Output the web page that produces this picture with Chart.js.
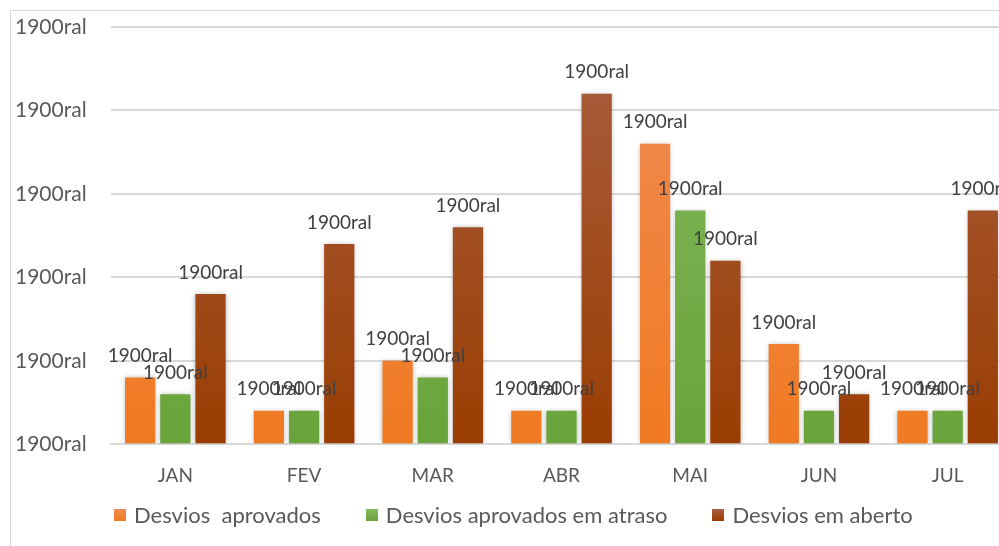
<!DOCTYPE html>
<html>
<head>
<meta charset="utf-8">
<script src="https://cdn.jsdelivr.net/npm/chart.js@4"></script>
<style>
    html, body { margin: 0; padding: 0; background: #fff; overflow: hidden; }
    #frame { position: absolute; left: 10px; top: 10px; width: 1000px; height: 545px; border: 1px solid #d9d9d9; }
    #wrap { position: absolute; left: 0; top: 0; width: 1012px; height: 546px; }
    #legend { position: absolute; left: 114px; top: 501px; display: flex; align-items: center;
              font-family: Lato, "Open Sans", sans-serif; font-size: 22px; color: #595959; white-space: pre; }
    #legend .item { display: flex; align-items: center; margin-right: 45px; }
    #legend .box { width: 12px; height: 12px; margin-right: 8px; }
</style>
</head>
<body>
<div id="frame"></div>
<div id="wrap"><canvas id="chart"></canvas></div>
<div id="legend"></div>
<script>
const months = ['JAN', 'FEV', 'MAR', 'ABR', 'MAI', 'JUN', 'JUL'];
const aprovados = [4, 2, 5, 2, 18, 6, 2];
const emAtraso = [3, 2, 4, 2, 14, 2, 2];
const emAberto = [9, 12, 13, 21, 11, 3, 14];
const seriesNames = ['Desvios  aprovados', 'Desvios aprovados em atraso', 'Desvios em aberto'];
const tickText = '1900ral';

const FONT = 'Lato, "Open Sans", sans-serif';
const legendColors = ['linear-gradient(#f08c56, #f07a22)', 'linear-gradient(#86b95f, #68a43a)', 'linear-gradient(#a95f42, #9a3d02)'];

// vertical gradient per series, built once the chart area is known
function grad(top, bottom) {
    return function(context) {
        const area = context.chart.chartArea;
        if (!area) return bottom;
        const g = context.chart.ctx.createLinearGradient(0, area.top, 0, area.bottom);
        g.addColorStop(0, top);
        g.addColorStop(1, bottom);
        return g;
    };
}

// bar value labels, same odd date format as the axis
const valueLabels = {
    id: 'valueLabels',
    afterDatasetsDraw(chart) {
        const ctx = chart.ctx;
        ctx.save();
        ctx.font = '19px ' + FONT;
        ctx.fillStyle = '#404040';
        ctx.textAlign = 'center';
        ctx.textBaseline = 'bottom';
        chart.data.datasets.forEach((ds, i) => {
            chart.getDatasetMeta(i).data.forEach(bar => {
                ctx.fillText(tickText, bar.x, bar.y - 12);
            });
        });
        ctx.restore();
    }
};

// soft shadow behind the bars
const barShadow = {
    id: 'barShadow',
    beforeDatasetsDraw(chart) {
        const ctx = chart.ctx;
        ctx.save();
        ctx.shadowColor = 'rgba(0,0,0,0.28)';
        ctx.shadowBlur = 5;
    },
    afterDatasetsDraw(chart) {
        chart.ctx.restore();
    }
};

new Chart(document.getElementById('chart').getContext('2d'), {
    type: 'bar',
    data: {
        labels: months,
        datasets: [
            { label: seriesNames[0], data: aprovados, backgroundColor: grad('#f08c56', '#f07a22') },
            { label: seriesNames[1], data: emAtraso, backgroundColor: grad('#86b95f', '#68a43a') },
            { label: seriesNames[2], data: emAberto, backgroundColor: grad('#a95f42', '#9a3d02') }
        ]
    },
    options: {
        responsive: true,
        maintainAspectRatio: false,
        animation: false,
        barPercentage: 0.86,
        categoryPercentage: 0.82,
        layout: { padding: { left: 15, top: 27, right: 0, bottom: 39 } },
        plugins: {
            legend: { display: false },
            tooltip: { enabled: false }
        },
        scales: {
            x: {
                grid: { display: false, drawTicks: false },
                border: { color: '#d9d9d9', width: 2 },
                ticks: { color: '#595959', font: { family: FONT, size: 19 }, padding: 20 }
            },
            y: {
                min: 0,
                max: 25,
                afterFit(scale) { scale.width = 96; },
                grid: { color: '#d9d9d9', lineWidth: 2, drawTicks: false },
                border: { display: false },
                ticks: {
                    stepSize: 5,
                    crossAlign: 'far',
                    color: '#595959',
                    font: { family: FONT, size: 21 },
                    callback: () => tickText
                }
            }
        }
    },
    plugins: [barShadow, valueLabels]
});

// legend drawn as html so the item spacing can match
const legend = document.getElementById('legend');
seriesNames.forEach((name, i) => {
    const item = document.createElement('div');
    item.className = 'item';
    const box = document.createElement('span');
    box.className = 'box';
    box.style.background = legendColors[i];
    const txt = document.createElement('span');
    txt.textContent = name;
    item.appendChild(box);
    item.appendChild(txt);
    legend.appendChild(item);
});
</script>
</body>
</html>
